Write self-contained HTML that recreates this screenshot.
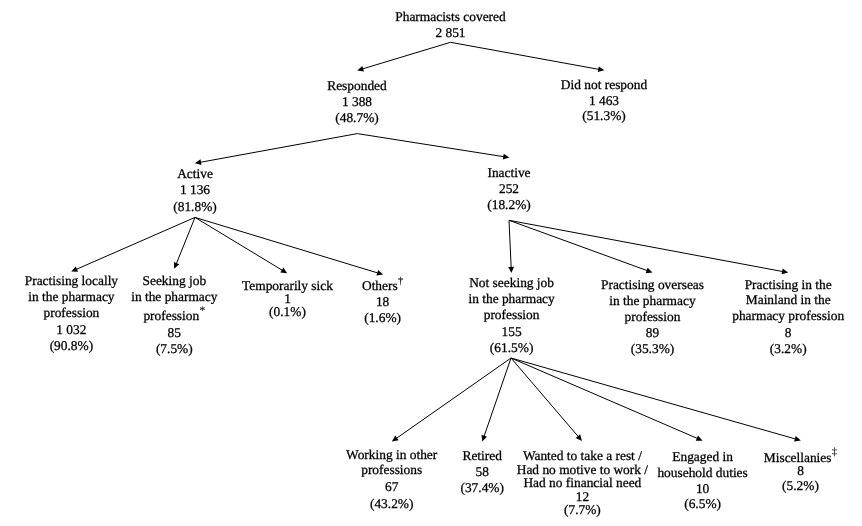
<!DOCTYPE html>
<html><head><meta charset="utf-8"><style>
html,body{margin:0;padding:0;background:#fff;}
body{width:862px;height:526px;overflow:hidden;}
svg{display:block;will-change:transform;}
text{font-family:"Liberation Serif",serif;font-size:13.4px;fill:#000;text-anchor:middle;stroke:#000;stroke-width:0.28px;text-rendering:geometricPrecision;}
.sup{stroke-width:0.1px;}
</style></head><body>
<svg width="862" height="526" viewBox="0 0 862 526">
<g stroke="#000" stroke-width="1" fill="#000">
<path d="M450.5,42.3L362.67,68.87"/>
<polygon stroke="none" points="357.22,70.52 362.31,65.94 363.99,71.50"/>
<path d="M450.5,42.3L598.79,69.35"/>
<polygon stroke="none" points="604.39,70.37 597.77,72.11 598.81,66.41"/>
<path d="M357.3,133.6L200.51,162.25"/>
<polygon stroke="none" points="194.91,163.27 200.48,159.30 201.53,165.01"/>
<path d="M357.3,133.6L503.76,156.68"/>
<polygon stroke="none" points="509.40,157.56 502.82,159.46 503.72,153.73"/>
<path d="M195,217.4L76.46,269.28"/>
<polygon stroke="none" points="71.23,271.56 75.75,266.42 78.08,271.73"/>
<path d="M195,217.4L176.38,263.58"/>
<polygon stroke="none" points="174.25,268.87 173.88,262.04 179.26,264.20"/>
<path d="M195,217.4L282.27,270.25"/>
<polygon stroke="none" points="287.14,273.21 280.34,272.48 283.34,267.51"/>
<path d="M195,217.4L377.73,272.96"/>
<polygon stroke="none" points="383.18,274.62 376.41,275.59 378.09,270.04"/>
<path d="M509,220.3L511.16,267.31"/>
<polygon stroke="none" points="511.42,273.00 508.24,266.94 514.03,266.67"/>
<path d="M509,220.3L647.12,270.59"/>
<polygon stroke="none" points="652.48,272.54 645.66,273.14 647.64,267.69"/>
<path d="M509,220.3L782.59,271.52"/>
<polygon stroke="none" points="788.19,272.57 781.57,274.28 782.63,268.58"/>
<path d="M511,358L396.54,438.26"/>
<polygon stroke="none" points="391.87,441.53 395.28,435.60 398.61,440.34"/>
<path d="M511,358L484.12,436.19"/>
<polygon stroke="none" points="482.27,441.58 481.54,434.77 487.03,436.66"/>
<path d="M511,358L578.25,436.57"/>
<polygon stroke="none" points="581.96,440.90 575.73,438.08 580.13,434.31"/>
<path d="M511,358L697.33,438.40"/>
<polygon stroke="none" points="702.57,440.66 695.73,440.86 698.02,435.54"/>
<path d="M511,358L795.40,438.95"/>
<polygon stroke="none" points="800.88,440.51 794.13,441.60 795.72,436.02"/>
</g>
<g transform="scale(1.0,1)">
<text x="450.50" y="20.8">Pharmacists covered</text>
<text x="450.50" y="36.8">2 851</text>
<text x="357.00" y="89.6">Responded</text>
<text x="357.00" y="105.6">1 388</text>
<text x="357.00" y="121.6">(48.7%)</text>
<text x="604.00" y="88.7">Did not respond</text>
<text x="604.00" y="104.7">1 463</text>
<text x="604.00" y="120.3">(51.3%)</text>
<text x="195.00" y="177.7">Active</text>
<text x="195.00" y="194.0">1 136</text>
<text x="195.00" y="210.8">(81.8%)</text>
<text x="509.00" y="177.4">Inactive</text>
<text x="509.00" y="193.2">252</text>
<text x="509.00" y="209.3">(18.2%)</text>
<text x="71.40" y="285">Practising locally</text>
<text x="71.40" y="300.8">in the pharmacy</text>
<text x="71.40" y="316.5">profession</text>
<text x="71.40" y="334">1 032</text>
<text x="71.40" y="350">(90.8%)</text>
<text x="174.30" y="284.7">Seeking job</text>
<text x="174.30" y="300.8">in the pharmacy</text>
<text x="174.30" y="320.0">profession<tspan class="sup" style="font-size:11.5px" dx="0.3" dy="-6.2">*</tspan></text>
<text x="174.30" y="337">85</text>
<text x="174.30" y="353">(7.5%)</text>
<text x="287.50" y="289.5">Temporarily sick</text>
<text x="287.50" y="302.9">1</text>
<text x="287.50" y="315.6">(0.1%)</text>
<text x="382.60" y="289.5">Others<tspan class="sup" style="font-size:10.5px" dx="0.3" dy="-5.2">†</tspan></text>
<text x="382.60" y="306">18</text>
<text x="382.60" y="322">(1.6%)</text>
<text x="511.60" y="286.9">Not seeking job</text>
<text x="511.60" y="302.6">in the pharmacy</text>
<text x="511.60" y="318.8">profession</text>
<text x="511.60" y="335.7">155</text>
<text x="511.60" y="351.5">(61.5%)</text>
<text x="652.50" y="288.8">Practising overseas</text>
<text x="652.50" y="304.5">in the pharmacy</text>
<text x="652.50" y="320.5">profession</text>
<text x="652.50" y="336.8">89</text>
<text x="652.50" y="352.8">(35.3%)</text>
<text x="788.20" y="288.8">Practising in the</text>
<text x="788.20" y="304.3">Mainland in the</text>
<text x="788.20" y="320.1">pharmacy profession</text>
<text x="788.20" y="336.8">8</text>
<text x="788.20" y="353.4">(3.2%)</text>
<text x="391.70" y="458.8">Working in other</text>
<text x="391.70" y="473.8">professions</text>
<text x="391.70" y="491.1">67</text>
<text x="391.70" y="507.6">(43.2%)</text>
<text x="482.20" y="459.6">Retired</text>
<text x="482.20" y="475.7">58</text>
<text x="482.20" y="491.7">(37.4%)</text>
<text x="582.40" y="459.7">Wanted to take a rest /</text>
<text x="582.40" y="473.6">Had no motive to work /</text>
<text x="582.40" y="486.6">Had no financial need</text>
<text x="582.40" y="500.9">12</text>
<text x="582.40" y="513.5">(7.7%)</text>
<text x="702.60" y="460.6">Engaged in</text>
<text x="702.60" y="476.5">household duties</text>
<text x="702.60" y="492.9">10</text>
<text x="702.60" y="508.4">(6.5%)</text>
<text x="800.50" y="461.7">Miscellanies<tspan class="sup" style="font-size:10.8px" dx="0.3" dy="-6.4">‡</tspan></text>
<text x="800.50" y="475.4">8</text>
<text x="800.50" y="489.5">(5.2%)</text>
</g>
</svg>
</body></html>
